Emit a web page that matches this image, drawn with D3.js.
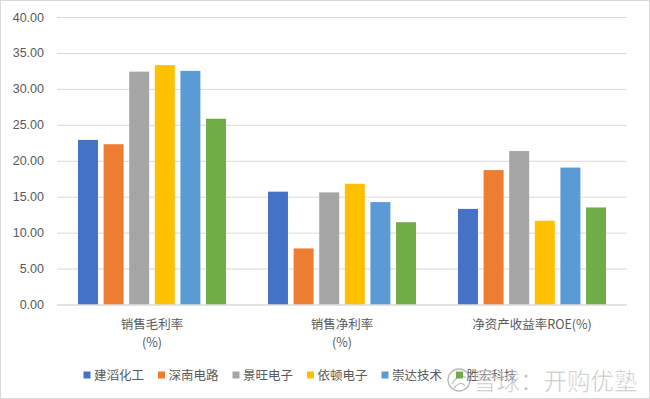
<!DOCTYPE html>
<html><head><meta charset="utf-8">
<script src="https://cdn.jsdelivr.net/npm/d3@7"></script>
<style>body{margin:0;background:#fff}</style>
</head><body>
<svg id="c" width="650" height="399"></svg>
<script>
const categories = ["销售毛利率\n(%)", "销售净利率\n(%)", "净资产收益率ROE(%)"];
const seriesNames = ["建滔化工", "深南电路", "景旺电子", "依顿电子", "崇达技术", "胜宏科技"];
const seriesColors = ["#4472C4", "#ED7D31", "#A5A5A5", "#FFC000", "#5B9BD5", "#70AD47"];
const values = [
  [22.9, 15.7, 13.3],
  [22.3, 7.8, 18.7],
  [32.4, 15.6, 21.35],
  [33.3, 16.8, 11.65],
  [32.5, 14.25, 19.05],
  [25.85, 11.45, 13.5]
];
const yTicks = [0, 5, 10, 15, 20, 25, 30, 35, 40];

const svg = d3.select("#c");
const W = 650, H = 399;
const L = 57, R = 627, T = 17, B = 304.5;
const txt = "#595959";
const fontCJK = "'Noto Sans CJK SC', 'Liberation Sans', sans-serif";

svg.append("rect").attr("x",0.5).attr("y",0.5).attr("width",W-1).attr("height",H-1)
  .attr("fill","#fff").attr("stroke","#d9d9d9");

const y = d3.scaleLinear().domain([0,40]).range([B,T]);
const x0 = d3.scaleBand().domain(d3.range(categories.length)).range([L,R]);
const x1 = d3.scaleBand().domain(d3.range(seriesNames.length)).range([0,x0.bandwidth()])
  .paddingInner(0.22).paddingOuter(0.82);

// gridlines
const yAxis = d3.axisLeft(y).tickValues(yTicks).tickSize(-(R-L)).tickFormat(d3.format(".2f"));
const ga = svg.append("g").attr("transform",`translate(${L},0)`).call(yAxis);
ga.select(".domain").remove();
ga.selectAll(".tick line").attr("stroke","#d9d9d9").attr("stroke-width",1);
ga.selectAll(".tick text").attr("x",-13).attr("fill",txt)
  .style("font-family","'Liberation Sans', sans-serif").style("font-size","12.5px");

// bars
const groups = svg.append("g").selectAll("g").data(categories).join("g")
  .attr("transform",(d,i)=>`translate(${x0(i)},0)`);
groups.selectAll("rect").data((d,i)=>values.map((s,j)=>({j, v:s[i]}))).join("rect")
  .attr("x",d=>x1(d.j)).attr("width",x1.bandwidth())
  .attr("y",d=>y(d.v)).attr("height",d=>y(0)-y(d.v))
  .attr("fill",d=>seriesColors[d.j]);

// baseline
svg.append("line").attr("x1",L).attr("x2",R).attr("y1",y(0)+0.5).attr("y2",y(0)+0.5)
  .attr("stroke","#d9d9d9");

// category labels
categories.forEach((c,i)=>{
  const lines = c.split("\n");
  const t = svg.append("text").attr("text-anchor","middle").attr("fill",txt)
    .style("font-family",fontCJK).style("font-size","12.5px");
  lines.forEach((ln,k)=>{
    t.append("tspan").attr("x",x0(i)+x0.bandwidth()/2).attr("y",328.5+k*18).text(ln);
  });
});

// legend
const lg = svg.append("g");
seriesNames.forEach((n,i)=>{
  const lx = 83.5 + i*74.5;
  lg.append("rect").attr("x",lx).attr("y",371.5).attr("width",7).attr("height",7).attr("fill",seriesColors[i]);
  lg.append("text").attr("x",lx+10.5).attr("y",380).attr("fill",txt)
    .style("font-family",fontCJK).style("font-size","12.5px").text(n);
});

// watermark
const wm = svg.append("g").attr("opacity",0.6);
wm.append("circle").attr("cx",459).attr("cy",380).attr("r",11).attr("fill","none").attr("stroke","#8c8c8c").attr("stroke-width",1.3);
wm.append("path").attr("d","M452,384 Q459,372 466,378 M454,388 Q461,380 465,386").attr("fill","none").attr("stroke","#8c8c8c").attr("stroke-width",1.2);
wm.append("text").attr("x",473).attr("y",390).attr("fill","#9a9a9a").attr("stroke","#fff").attr("stroke-width",0.6)
  .style("font-family",fontCJK).style("font-size","23.5px").text("雪球：开购优塾");
</script>
</body></html>
